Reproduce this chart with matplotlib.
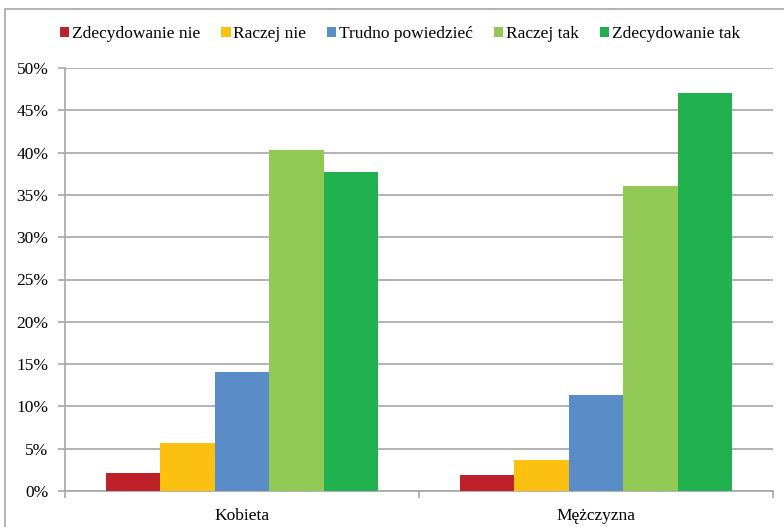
import matplotlib.pyplot as plt
import numpy as np
from matplotlib.patches import Rectangle
from matplotlib.ticker import FuncFormatter, MultipleLocator

plt.rcParams['font.family'] = ['Liberation Serif', 'DejaVu Serif']

# data
groups = ["Kobieta", "Mężczyzna"]
answers = ["Zdecydowanie nie", "Raczej nie", "Trudno powiedzieć", "Raczej tak", "Zdecydowanie tak"]
kobieta = [2.1, 5.7, 14.1, 40.3, 37.7]
mezczyzna = [1.9, 3.7, 11.3, 36.0, 47.0]
colors = ["#C0202A", "#FCC010", "#5A8DC8", "#92C955", "#21B14F"]

values = np.array([kobieta, mezczyzna])

fig = plt.figure(figsize=(7.84, 5.27), dpi=100)
ax = fig.add_axes([65 / 784, 1 - 491 / 527, 708 / 784, 423 / 527])

# outer chart border
fig.patches.append(Rectangle((5 / 784, -0.05), 1.2, 1 - 9 / 527 + 0.05,
                             transform=fig.transFigure, fill=False,
                             edgecolor="#A6A6A6", linewidth=1.2))

n = len(answers)
bar_w = 1 / (n + 1.5)
x = np.arange(len(groups))
for i, (name, c) in enumerate(zip(answers, colors)):
    ax.bar(x + (i - (n - 1) / 2) * bar_w, values[:, i], width=bar_w,
           color=c, label=name, zorder=3)

ax.set_xlim(-0.5, len(groups) - 0.5)
ax.set_ylim(0, 50)
ax.yaxis.set_major_locator(MultipleLocator(5))
ax.yaxis.set_major_formatter(FuncFormatter(lambda v, p: f"{v:.0f}%"))
ax.grid(axis="y", color="#A6A6A6", linewidth=1.2, zorder=0)

ax.set_xticks(x)
ax.set_xticklabels(groups)
ax.set_xticks([-0.5, 0.5, 1.5], minor=True)
ax.tick_params(axis="x", which="major", length=0, pad=12, labelsize=12.5)
ax.tick_params(axis="x", which="minor", length=5, color="#A6A6A6", width=1.2)
ax.tick_params(axis="y", length=5, color="#A6A6A6", width=1.2, labelsize=12.5, pad=7)

for s in ["top", "right"]:
    ax.spines[s].set_visible(False)
for s in ["left", "bottom"]:
    ax.spines[s].set_color("#A6A6A6")
    ax.spines[s].set_linewidth(1.2)

fig.legend(loc="center", bbox_to_anchor=(0.51, 1 - 34 / 527), ncol=5,
           frameon=False, fontsize=12.5, handlelength=0.55, handleheight=0.55,
           handletextpad=0.15, columnspacing=1.2)

fig.savefig("out.png", dpi=100)
